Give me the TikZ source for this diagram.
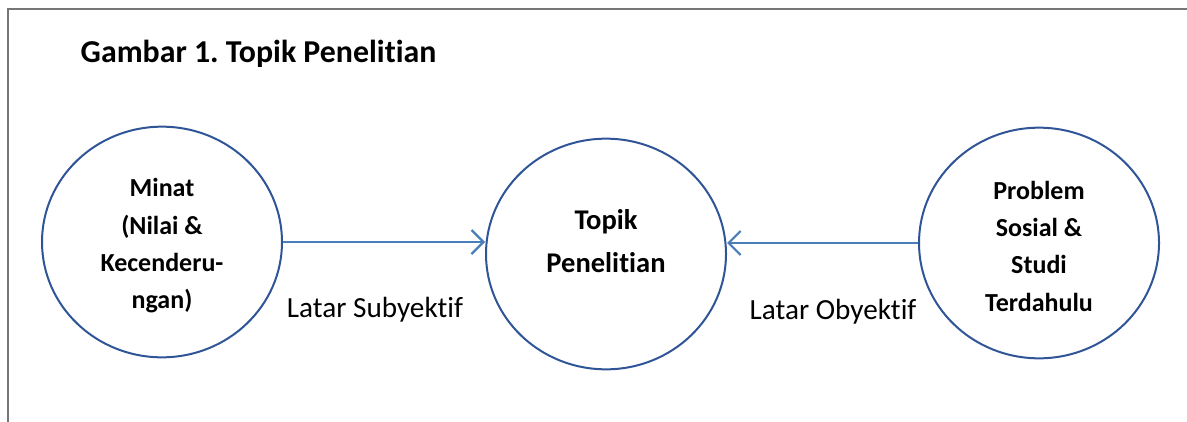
\documentclass[tikz,border=0pt]{standalone}
\usepackage{fontspec}
\setmainfont{Carlito}[Ligatures=NoCommon]
\usepackage{tikz}
\usetikzlibrary{shapes.geometric,arrows.meta}
\definecolor{rimblue}{HTML}{2F5597}
\definecolor{arrowblue}{HTML}{4A7EBB}
\definecolor{framegray}{HTML}{767676}
\tikzset{
  bubble/.style={ellipse, draw=rimblue, line width=1.5pt, inner sep=0pt,
    minimum width=180pt, minimum height=173pt},
  bubbletext/.style={align=center, font=\bfseries\fontsize{19.5}{28}\selectfont},
  link/.style={draw=arrowblue, line width=1.8pt,
    -{Straight Barb[length=9pt, width=18pt, line width=1.6pt]}},
  linklabel/.style={font=\fontsize{21.9}{26}\selectfont}
}
\frenchspacing

\begin{document}
\begin{tikzpicture}[x=0.75pt, y=-0.75pt]
        \useasboundingbox (0,0) rectangle (1187,421);
        % frame
        \draw[framegray, line width=1.5pt] (8,425) -- (8,9) -- (1190,9);
        \node (title) [anchor=west, font=\bfseries\fontsize{23.9}{28}\selectfont] at (76,54) {Gambar 1. Topik Penelitian};
        \node (minat) [bubble] at (162,242) {};
        \node (topik) [bubble] at (606,254) {};
        \node (problem) [bubble] at (1039,243) {};
        \node (minattext) [bubbletext] at (162,246) {Minat\\(Nilai \&\\Kecenderu-\\ngan)};
        \node (topiktext) [bubbletext, font=\bfseries\fontsize{21.4}{32}\selectfont] at (606,241) {Topik\\Penelitian};
        \node (problemtext) [bubbletext] at (1039,246) {Problem\\Sosial \&\\Studi\\Terdahulu};
        \draw[link] (minat.east) -- (minat.east -| topik.west);
        \draw[link] (problem.west) -- (problem.west -| topik.east);
        \node (subyektif) [linklabel] at (375,310) {Latar Subyektif};
        \node (obyektif) [linklabel] at (833,312) {Latar Obyektif};
\end{tikzpicture}
\end{document}
